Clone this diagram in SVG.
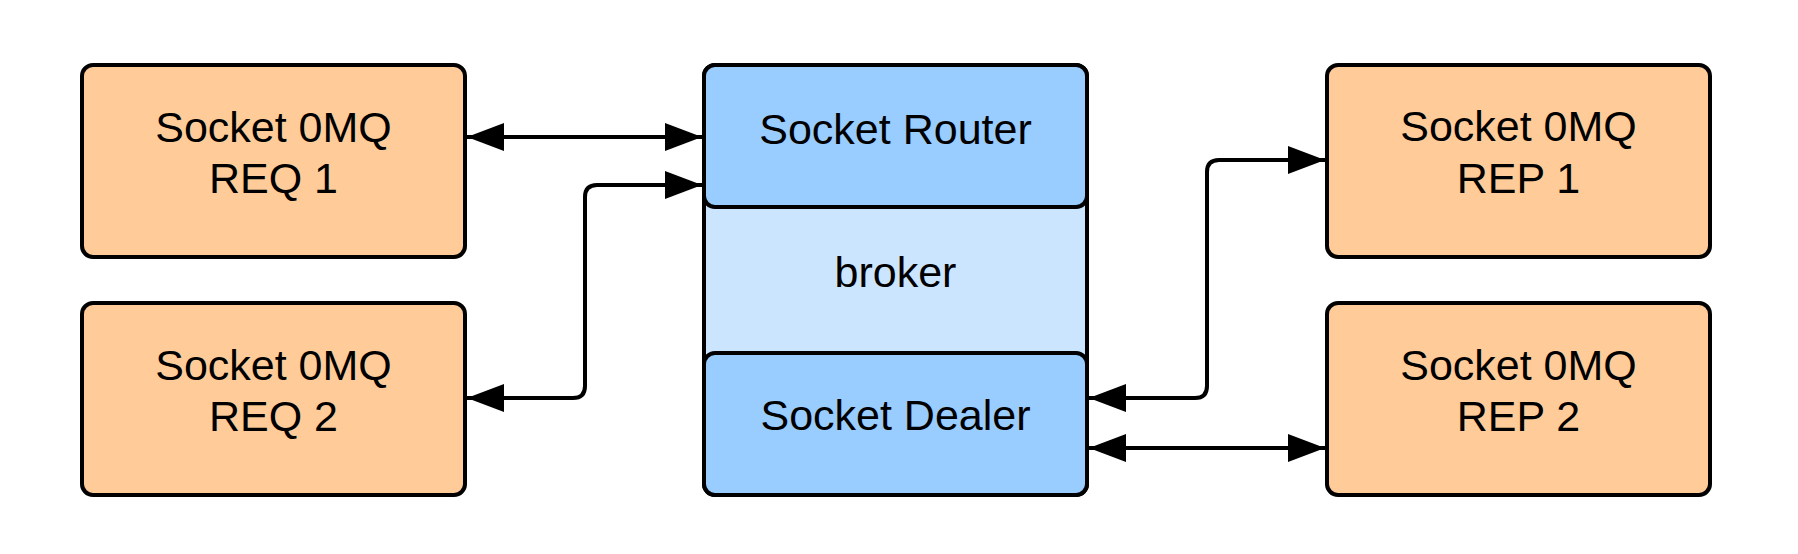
<svg xmlns="http://www.w3.org/2000/svg" width="1798" height="554" viewBox="0 0 1798 554">
  <style>
    .box { stroke: #000; stroke-width: 4; }
    .req { fill: #ffcc99; }
    .blue { fill: #99ccff; }
    .light { fill: #cce5ff; }
    .lbl { font-family: "Liberation Sans", Arial, sans-serif; font-size: 43px; fill: #000; text-anchor: middle; }
    .conn { fill: none; stroke: #000; stroke-width: 4; marker-start: url(#ah); marker-end: url(#ah); }
  </style>
  <defs>
    <marker id="ah" viewBox="0 0 37 28" refX="37" refY="14" markerWidth="37" markerHeight="28" markerUnits="userSpaceOnUse" orient="auto-start-reverse">
      <path d="M0,0 L37,14 L0,28 z" fill="#000"/>
    </marker>
  </defs>
  <rect width="1798" height="554" fill="#fff"/>

  <g id="req1">
    <rect class="box req" x="82" y="65" width="383" height="192" rx="11"/>
    <text class="lbl" x="273.5" y="142">Socket 0MQ</text>
    <text class="lbl" x="273.5" y="193">REQ 1</text>
  </g>
  <g id="req2">
    <rect class="box req" x="82" y="303" width="383" height="192" rx="11"/>
    <text class="lbl" x="273.5" y="380">Socket 0MQ</text>
    <text class="lbl" x="273.5" y="431">REQ 2</text>
  </g>
  <g id="broker">
    <rect class="box light" x="704" y="65" width="383" height="430" rx="11"/>
    <text class="lbl" x="895.5" y="287">broker</text>
  </g>
  <g id="router">
    <rect class="box blue" x="704" y="65" width="383" height="142" rx="11"/>
    <text class="lbl" x="895.5" y="144">Socket Router</text>
  </g>
  <g id="dealer">
    <rect class="box blue" x="704" y="353" width="383" height="142" rx="11"/>
    <text class="lbl" x="895.5" y="430">Socket Dealer</text>
  </g>
  <g id="rep1">
    <rect class="box req" x="1327" y="65" width="383" height="192" rx="11"/>
    <text class="lbl" x="1518.5" y="141">Socket 0MQ</text>
    <text class="lbl" x="1518.5" y="193">REP 1</text>
  </g>
  <g id="rep2">
    <rect class="box req" x="1327" y="303" width="383" height="192" rx="11"/>
    <text class="lbl" x="1518.5" y="380">Socket 0MQ</text>
    <text class="lbl" x="1518.5" y="431">REP 2</text>
  </g>

  <g id="connectors">
    <path class="conn" d="M467,137 H702"/>
    <path class="conn" d="M702,185 H597 Q585,185 585,197 V386 Q585,398 573,398 H467"/>
    <path class="conn" d="M1089,398 H1195 Q1207,398 1207,386 V172 Q1207,160 1219,160 H1325"/>
    <path class="conn" d="M1089,448 H1325"/>
  </g>
</svg>
